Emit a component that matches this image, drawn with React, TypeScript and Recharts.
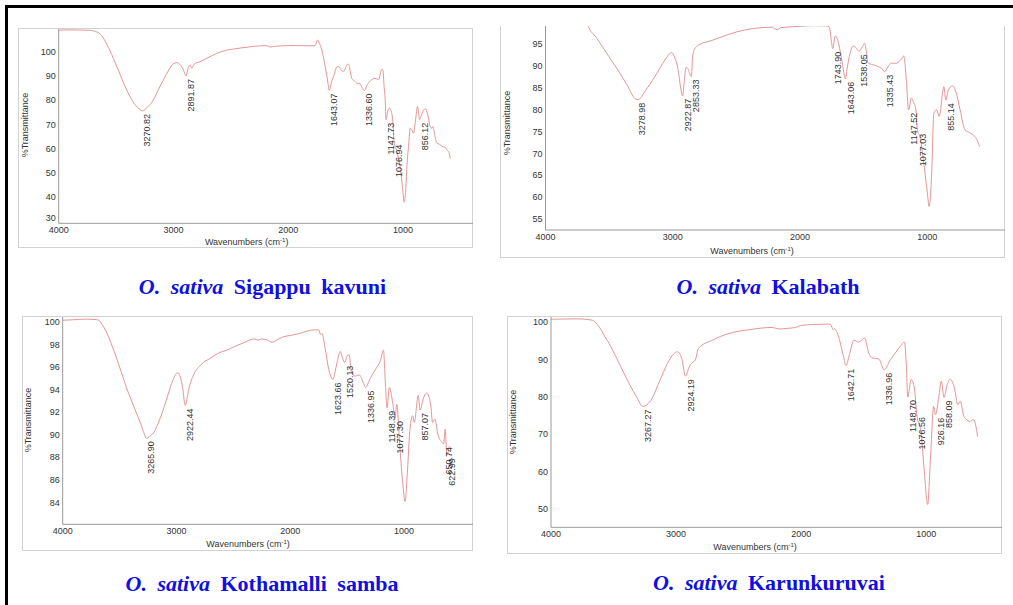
import React from "react";
import { LineChart, Line, XAxis, YAxis } from "recharts";

type Pt = [number, number];

// FT-IR spectra: [wavenumber cm-1, %T]
const SIGAPPU: Pt[] = [
  [4000, 108.9], [3900, 109], [3800, 108.9], [3720, 108.8], [3690, 108.4], [3640, 107.4],
  [3580, 103], [3524, 97.3], [3460, 90], [3407, 84.2], [3340, 78.5], [3291, 76.2],
  [3270.82, 75.6], [3230, 77], [3175, 80.1], [3130, 84.5], [3088, 88.4], [3040, 92.5],
  [3000, 95], [2970, 95.5], [2945, 94.8], [2928, 93.8], [2905, 91.5], [2891.87, 90],
  [2870, 93.5], [2855, 94.5], [2840, 93.2], [2820, 94.8], [2768, 95.9], [2700, 97.5],
  [2623, 99.3], [2550, 100.5], [2478, 101.1], [2350, 101.9], [2250, 102.4], [2187, 102.5],
  [2157, 101.9], [2120, 102.2], [2000, 102.5], [1896, 102.5], [1800, 102.4], [1766, 102.5],
  [1745, 104.8], [1720, 102.5], [1707, 100.7], [1678, 93.8], [1655, 87.5], [1643.07, 84],
  [1620, 88], [1606, 89.7], [1575, 93.8], [1560, 93.9], [1533, 92.1], [1519, 91.8],
  [1490, 94.5], [1475, 94.9], [1460, 92], [1446, 89], [1420, 87.8], [1402, 87],
  [1373, 86.8], [1358, 85.3], [1336.6, 84], [1310, 86.5], [1286, 87.9], [1243, 89],
  [1228, 88.8], [1214, 88.4], [1184, 92.8], [1175, 92.5], [1165, 86], [1155, 80.1],
  [1147.73, 72], [1130, 76], [1118, 76.8], [1100, 75], [1088, 71], [1076.94, 63],
  [1053, 59], [1018, 50], [1000, 42], [990, 38], [978, 42], [966, 52.7], [950, 62],
  [937, 68.5], [925, 68], [908, 66.4], [890, 72], [874, 77.4], [865, 75.5], [856.12, 72],
  [835, 74.5], [807, 76.5], [790, 75], [778, 72.6], [765, 69.5], [748, 68.5], [740, 69.2],
  [725, 66], [704, 62.3], [680, 61.8], [660, 61], [647, 60.7], [630, 60.5], [617, 59.5],
  [600, 58.5], [588, 56],
];
const SIGAPPU_PEAKS = [3270.82, 2891.87, 1643.07, 1336.6, 1147.73, 1076.94, 856.12];

const KALABATH: Pt[] = [
  [4000, 107], [3850, 107.2], [3760, 106.5], [3720, 104.5], [3690, 101.5], [3668, 99.4],
  [3600, 96.5], [3536, 93.7], [3480, 91.2], [3431, 89.1], [3352, 85.3], [3299, 82.6],
  [3278.98, 82.3], [3250, 82.8], [3220, 84.2], [3180, 85.8], [3141, 87.6], [3100, 89.6],
  [3062, 91.4], [3009, 93.1], [2983, 91.8], [2960, 89.5], [2935, 84.5], [2922.87, 83.2],
  [2910, 86.5], [2896, 89.7], [2880, 89.4], [2870, 88.5], [2853.33, 87.6], [2845, 92],
  [2830, 93.8], [2798, 94.8], [2700, 95.8], [2614, 96.7], [2500, 97.8], [2429, 98.3],
  [2300, 98.8], [2219, 98.9], [2179, 98.3], [2150, 98.8], [2061, 99], [2000, 99.1],
  [1950, 99.2], [1900, 99.25], [1800, 99.2], [1771, 99], [1755, 96], [1743.9, 94],
  [1723, 96.9], [1697, 95.2], [1670, 91], [1643.06, 87.1], [1630, 89.5], [1613, 92.2],
  [1581, 94.6], [1560, 94.2], [1538.05, 93.4], [1510, 94.5], [1494, 95.2], [1480, 93.5],
  [1468, 90.8], [1429, 90.3], [1400, 90.1], [1389, 89.9], [1360, 89.5], [1335.43, 88.7],
  [1310, 89.8], [1283, 90.7], [1250, 90.6], [1231, 90.8], [1210, 91.4], [1186, 92.3],
  [1165, 86.8], [1147.52, 80], [1125, 82.7], [1110, 81.8], [1091, 80.2], [1077.03, 75.2],
  [1060, 74], [1028, 67.8], [1000, 61], [986, 57.9], [967, 64.8], [949, 79.2], [927, 80],
  [907, 78.5], [870, 85.3], [855.14, 82.2], [835, 84.5], [801, 85.5], [769, 83.4],
  [743, 80], [704, 75.4], [670, 74.8], [643, 74.3], [611, 73.2], [590, 71.6],
];
const KALABATH_PEAKS = [3278.98, 2922.87, 2853.33, 1743.9, 1643.06, 1538.05, 1335.43, 1147.52, 1077.03, 855.14];

const KOTHAMALLI: Pt[] = [
  [4000, 100.15], [3900, 100.2], [3800, 100.25], [3700, 100.2], [3676, 100.1], [3661, 99.9],
  [3620, 99.2], [3574, 98.1], [3530, 96.9], [3486, 95.6], [3440, 94.2], [3398, 93.1],
  [3350, 91.9], [3311, 90.9], [3280, 90], [3265.9, 89.7], [3230, 89.9], [3194, 90.3],
  [3150, 91.3], [3107, 92.5], [3070, 93.7], [3033, 94.8], [2990, 95.5], [2965, 95.1],
  [2946, 94.2], [2922.44, 92.6], [2900, 93.6], [2888, 94.2], [2850, 95.3], [2786, 96.2],
  [2700, 96.8], [2639, 97.2], [2560, 97.5], [2494, 97.8], [2400, 98.2], [2319, 98.5],
  [2280, 98.4], [2250, 98.5], [2201, 98.4], [2158, 98.2], [2100, 98.5], [2056, 98.7],
  [2000, 98.8], [1950, 98.9], [1910, 99], [1850, 99.2], [1793, 99.3], [1749, 99.3],
  [1734, 98.9], [1720, 99], [1705, 98.4], [1691, 97.6], [1661, 95.8], [1635, 95],
  [1623.66, 94.9], [1605, 95.6], [1588, 96.4], [1559, 97.4], [1540, 96.8], [1520.13, 96.4],
  [1500, 97], [1481, 97.1], [1463, 95.6], [1428, 95.2], [1391, 95.3], [1360, 94.7],
  [1336.95, 94.2], [1297, 95], [1244, 95.9], [1209, 96.5], [1180, 97.5], [1163, 94.6],
  [1148.39, 92.4], [1128, 94.2], [1098, 92.8], [1077.3, 91.5], [1063, 92.7], [1034, 88.7],
  [1011, 85.8], [990, 84.1], [970, 86.6], [947, 90.5], [923, 91.7], [909, 91.1],
  [874, 93.5], [857.07, 92.2], [830, 93.2], [800, 93.7], [765, 92.7], [748, 91.1],
  [728, 91.4], [698, 89.9], [669, 89.4], [650.74, 89.2], [637, 90.5], [622.99, 88.2],
  [602, 89],
];
const KOTHAMALLI_PEAKS = [3265.9, 2922.44, 1623.66, 1520.13, 1336.95, 1148.39, 1077.3, 857.07, 650.74, 622.99];

const KARUNKURUVAI: Pt[] = [
  [4000, 100.8], [3800, 100.9], [3700, 100.7], [3667, 100.5], [3614, 98.7], [3575, 96.5],
  [3535, 94.3], [3455, 89], [3375, 83.6], [3308, 79.6], [3267.27, 77.5], [3202, 79.1],
  [3135, 84], [3069, 89], [3020, 91.5], [2989, 92.1], [2955, 90.3], [2924.19, 85.6],
  [2896, 88], [2870, 89.2], [2848, 89.8], [2821, 93], [2710, 95.2], [2577, 97],
  [2417, 98], [2231, 98.6], [2178, 98.2], [2100, 98.4], [2045, 98.6], [2005, 99.1],
  [1911, 99.4], [1779, 99.5], [1765, 99.4], [1744, 98], [1735, 98.3], [1725, 98],
  [1691, 94.9], [1660, 90.5], [1642.71, 88.4], [1611, 91.8], [1579, 95.2], [1539, 94.7],
  [1494, 95.8], [1460, 91.8], [1433, 90.5], [1380, 90.2], [1336.96, 87.3], [1287, 90],
  [1247, 91.8], [1207, 93.6], [1175, 94.7], [1159, 88.2], [1148.7, 80], [1121, 84.7],
  [1095, 82.4], [1076.56, 75.5], [1042, 70.4], [1015, 59.7], [989, 51.3], [967, 63.3],
  [941, 77.5], [926.16, 75.3], [900, 80], [880, 84.2], [858.09, 79.9], [835, 83],
  [810, 84.8], [775, 82.4], [748, 78], [728, 78.9], [700, 74.9], [650, 73.5], [625, 74],
  [605, 72.5], [590, 69.5],
];
const KARUNKURUVAI_PEAKS = [3267.27, 2924.19, 1642.71, 1336.96, 1148.7, 1076.56, 926.16, 858.09];

const WN_TICKS = [4000, 3000, 2000, 1000];
const T_TICKS_SIGAPPU = [30, 40, 50, 60, 70, 80, 90, 100];
const T_TICKS_KALABATH = [55, 60, 65, 70, 75, 80, 85, 90, 95, 100];
const T_TICKS_KOTHAMALLI = [84, 86, 88, 90, 92, 94, 96, 98, 100];
const T_TICKS_KARUNKURUVAI = [50, 60, 70, 80, 90, 100];

const SANS = "Arial, 'Liberation Sans', sans-serif";
const SERIF = "'Times New Roman', 'Liberation Serif', serif";
const TEXT = "#333";
const AXIS = "#9a9a9a";
const FRAME = "#d2d2d2";
const TRACE = "#e49595";

function toRows(series: Pt[], peaks: number[]) {
  return series.map(([wn, t]) => ({
    wn,
    t,
    tag: peaks.includes(wn) ? wn.toFixed(2) : null,
  }));
}

// peak annotation: vertical text hanging just below the band minimum
function peakDot(p: any) {
  const key = `pk-${p.index}`;
  const tag = p.payload?.tag;
  if (!tag || p.cx == null || p.cy == null) return <g key={key} />;
  const x = p.cx + 5;
  const y = p.cy + 3;
  return (
    <text
      key={key}
      x={x}
      y={y}
      transform={`rotate(-90 ${x} ${y})`}
      textAnchor="end"
      dominantBaseline="central"
      fontSize={9}
      fontFamily={SANS}
      fill={TEXT}
    >
      {tag}
    </text>
  );
}

// y tick; the lowest one can be lifted off the x axis labels
function yTick(lowest: number, lift: number) {
  return (p: any) => (
    <text
      x={p.x}
      y={p.y - (p.payload.value === lowest ? lift : 0)}
      textAnchor="end"
      dominantBaseline="central"
      fontSize={9}
      fontFamily={SANS}
      fill={TEXT}
    >
      {p.payload.value}
    </text>
  );
}

function Spectrum({
  series,
  peaks,
  yDomain,
  yTicks,
  width,
  height,
  marginTop,
  yAxisWidth,
  xAxisHeight,
  xTickMargin = 3,
  bottomTickLift = 0,
}: {
  series: Pt[];
  peaks: number[];
  yDomain: [number, number];
  yTicks: number[];
  width: number;
  height: number;
  marginTop: number;
  yAxisWidth: number;
  xAxisHeight: number;
  xTickMargin?: number;
  bottomTickLift?: number;
}) {
  const data = toRows(series, peaks);
  const tick = { fill: TEXT, fontSize: 9, fontFamily: SANS };
  return (
    <LineChart
      width={width}
      height={height}
      data={data}
      margin={{ top: marginTop, right: 0, left: 0, bottom: 0 }}
    >
      <XAxis
        dataKey="wn"
        type="number"
        reversed
        domain={[390, 4000]}
        allowDataOverflow
        ticks={WN_TICKS}
        height={xAxisHeight}
        tick={tick}
        tickSize={0}
        tickMargin={xTickMargin}
        stroke={AXIS}
        interval={0}
      />
      <YAxis
        type="number"
        domain={yDomain}
        allowDataOverflow
        ticks={yTicks}
        width={yAxisWidth}
        tick={yTick(yTicks[0], bottomTickLift)}
        tickSize={0}
        tickMargin={3}
        stroke={AXIS}
        interval={0}
      />
      <Line
        dataKey="t"
        type="monotone"
        stroke={TRACE}
        strokeWidth={1}
        dot={peakDot}
        activeDot={false}
        isAnimationActive={false}
      />
    </LineChart>
  );
}

function Frame({ left, top, width, height, noTop }: any) {
  return (
    <div
      style={{
        position: "absolute",
        left,
        top,
        width,
        height,
        boxSizing: "border-box",
        border: `1px solid ${FRAME}`,
        borderTop: noTop ? "none" : `1px solid ${FRAME}`,
      }}
    />
  );
}

function YTitle({ x, y }: { x: number; y: number }) {
  return (
    <div
      style={{
        position: "absolute",
        left: x,
        top: y,
        transform: "translate(-50%, -50%) rotate(-90deg)",
        fontFamily: SANS,
        fontSize: 9,
        color: TEXT,
        whiteSpace: "nowrap",
        lineHeight: 1,
      }}
    >
      %Transmittance
    </div>
  );
}

function XTitle({ x, y }: { x: number; y: number }) {
  return (
    <div
      style={{
        position: "absolute",
        left: x,
        top: y,
        transform: "translate(-50%, -50%)",
        fontFamily: SANS,
        fontSize: 9,
        color: TEXT,
        whiteSpace: "nowrap",
        lineHeight: 1,
      }}
    >
      Wavenumbers (cm
      <span style={{ fontSize: 6, position: "relative", top: -3 }}>-1</span>)
    </div>
  );
}

function Caption({ x, y, name }: { x: number; y: number; name: string }) {
  return (
    <div
      style={{
        position: "absolute",
        left: x,
        top: y,
        transform: "translate(-50%, -50%)",
        fontFamily: SERIF,
        fontWeight: "bold",
        fontSize: 22,
        color: "#1010e0",
        whiteSpace: "nowrap",
        wordSpacing: 5,
        lineHeight: 1,
      }}
    >
      <i>O. sativa</i> {name}
    </div>
  );
}

function Abs({ left, top, children }: any) {
  return <div style={{ position: "absolute", left, top }}>{children}</div>;
}

export default function App() {
  return (
    <div
      style={{
        position: "absolute",
        left: 0,
        top: 0,
        width: 1013,
        height: 605,
        background: "#fff",
        overflow: "hidden",
      }}
    >
      <div
        style={{
          position: "absolute",
          left: 5,
          top: 5,
          width: 1020,
          height: 610,
          borderLeft: "3px solid #000",
          borderTop: "3px solid #000",
        }}
      />

      {/* Sigappu kavuni */}
      <Frame left={18} top={28} width={455} height={220} />
      <Abs left={18} top={28}>
        <Spectrum
          series={SIGAPPU}
          peaks={SIGAPPU_PEAKS}
          yDomain={[29.3, 109.35]}
          yTicks={T_TICKS_SIGAPPU}
          width={455}
          height={220}
          marginTop={1}
          yAxisWidth={40.7}
          xAxisHeight={24.7}
          bottomTickLift={4}
        />
      </Abs>
      <YTitle x={25} y={125} />
      <XTitle x={246.7} y={242} />
      <Caption x={262.5} y={286.7} name="Sigappu kavuni" />

      {/* Kalabath: top of the plot is cropped */}
      <Frame left={500} top={26} width={505} height={232} noTop />
      <div
        style={{
          position: "absolute",
          left: 500,
          top: 26,
          width: 505,
          height: 232,
          overflow: "hidden",
        }}
      >
        <Abs left={0} top={-16}>
          <Spectrum
            series={KALABATH}
            peaks={KALABATH_PEAKS}
            yDomain={[52.5, 102]}
            yTicks={T_TICKS_KALABATH}
            width={505}
            height={248}
            marginTop={3.64}
            yAxisWidth={45.5}
            xAxisHeight={28}
            xTickMargin={4}
          />
        </Abs>
      </div>
      <YTitle x={506.7} y={123} />
      <XTitle x={752} y={250.7} />
      <Caption x={768} y={286.7} name="Kalabath" />

      {/* Kothamalli samba */}
      <Frame left={22} top={315.7} width={451.3} height={235} />
      <Abs left={22} top={315.7}>
        <Spectrum
          series={KOTHAMALLI}
          peaks={KOTHAMALLI_PEAKS}
          yDomain={[82.08, 100.44]}
          yTicks={T_TICKS_KOTHAMALLI}
          width={451.3}
          height={235}
          marginTop={1}
          yAxisWidth={40.7}
          xAxisHeight={26.7}
        />
      </Abs>
      <YTitle x={28.3} y={420} />
      <XTitle x={248} y={544.3} />
      <Caption x={262} y={584} name="Kothamalli samba" />

      {/* Karunkuruvai */}
      <Frame left={506.7} top={315.7} width={495.6} height={238.3} />
      <Abs left={506.7} top={315.7}>
        <Spectrum
          series={KARUNKURUVAI}
          peaks={KARUNKURUVAI_PEAKS}
          yDomain={[45.2, 101.4]}
          yTicks={T_TICKS_KARUNKURUVAI}
          width={495.6}
          height={238.3}
          marginTop={1}
          yAxisWidth={44}
          xAxisHeight={27}
        />
      </Abs>
      <YTitle x={513} y={421.7} />
      <XTitle x={755} y={547.3} />
      <Caption x={769} y={583.3} name="Karunkuruvai" />
    </div>
  );
}
